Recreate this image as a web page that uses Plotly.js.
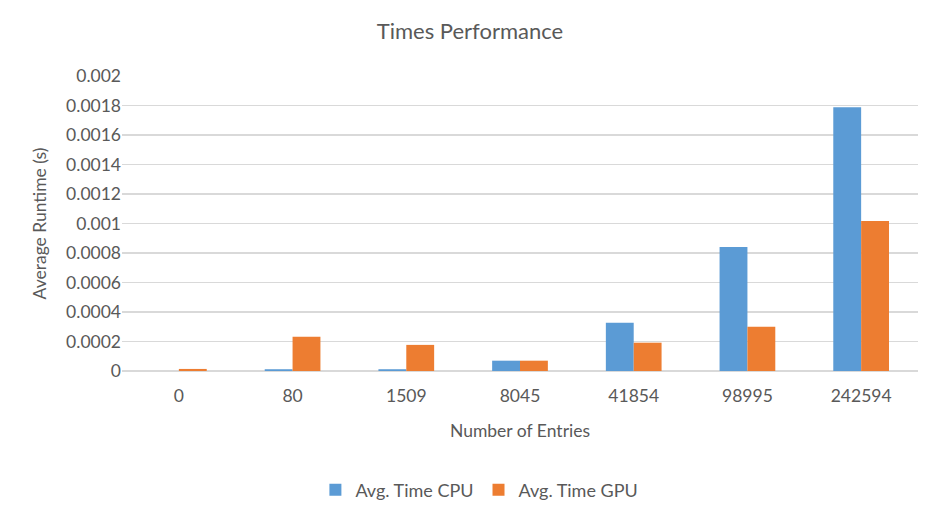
<!DOCTYPE html>
<html>
<head>
<meta charset="utf-8">
<script src="https://cdn.plot.ly/plotly-3.0.1.min.js"></script>
<style>html,body{margin:0;padding:0;background:#fff;}#chart{width:940px;height:522px;}</style>
</head>
<body>
<div id="chart"></div>
<script>
var categories = ["0", "80", "1509", "8045", "41854", "98995", "242594"];
var cpuTimes = [0.0, 0.000012, 0.000012, 0.00007, 0.000327, 0.000841, 0.001788];
var gpuTimes = [0.000014, 0.000232, 0.000177, 0.00007, 0.000192, 0.0003, 0.001017];
var yTickVals = [0, 0.0002, 0.0004, 0.0006, 0.0008, 0.001, 0.0012, 0.0014, 0.0016, 0.0018, 0.002];
var yTickText = ["0", "0.0002", "0.0004", "0.0006", "0.0008", "0.001", "0.0012", "0.0014", "0.0016", "0.0018", "0.002"];

var fontFam = "Lato, 'Open Sans', sans-serif";
var grey = "#595959";

var traces = [
  {type: "bar", name: "Avg. Time CPU", x: categories, y: cpuTimes, marker: {color: "#5b9bd5"}},
  {type: "bar", name: "Avg. Time GPU", x: categories, y: gpuTimes, marker: {color: "#ed7d31"}}
];

var layout = {
  width: 940, height: 522,
  margin: {l: 122, r: 22, t: 76, b: 151},
  paper_bgcolor: "#fff", plot_bgcolor: "#fff",
  font: {family: fontFam, color: grey, size: 17.5},
  title: {text: "Times Performance", font: {family: fontFam, size: 22, color: grey}, x: 0.5, xanchor: "center", y: 0.94, yanchor: "middle"},
  barmode: "group",
  bargap: 0.51,
  bargroupgap: 0,
  xaxis: {
    type: "category",
    automargin: false,
    title: {text: "Number of Entries", font: {size: 17.5, color: grey}, standoff: 20},
    tickfont: {size: 17.5, color: grey},
    ticklabelstandoff: 12,
    showgrid: false, showline: false, zeroline: false,
    ticks: "", ticklen: 0
  },
  yaxis: {
    automargin: false,
    range: [0, 0.002],
    tickvals: yTickVals, ticktext: yTickText,
    tickfont: {size: 17.5, color: grey},
    title: {text: "Average Runtime (s)", font: {size: 17.5, color: grey}, standoff: 14},
    showgrid: true, gridcolor: "#d9d9d9", gridwidth: 1.5,
    zeroline: true, zerolinecolor: "#d9d9d9", zerolinewidth: 1.5,
    showline: false, ticks: ""
  },
  showlegend: true,
  legend: {orientation: "h", x: 0.51, xanchor: "center", xref: "container", yref: "container", y: 0.061, yanchor: "middle", font: {size: 18, color: grey}, traceorder: "normal", itemwidth: 30}
};

Plotly.newPlot("chart", traces, layout, {displayModeBar: false, staticPlot: true});
</script>
</body>
</html>
